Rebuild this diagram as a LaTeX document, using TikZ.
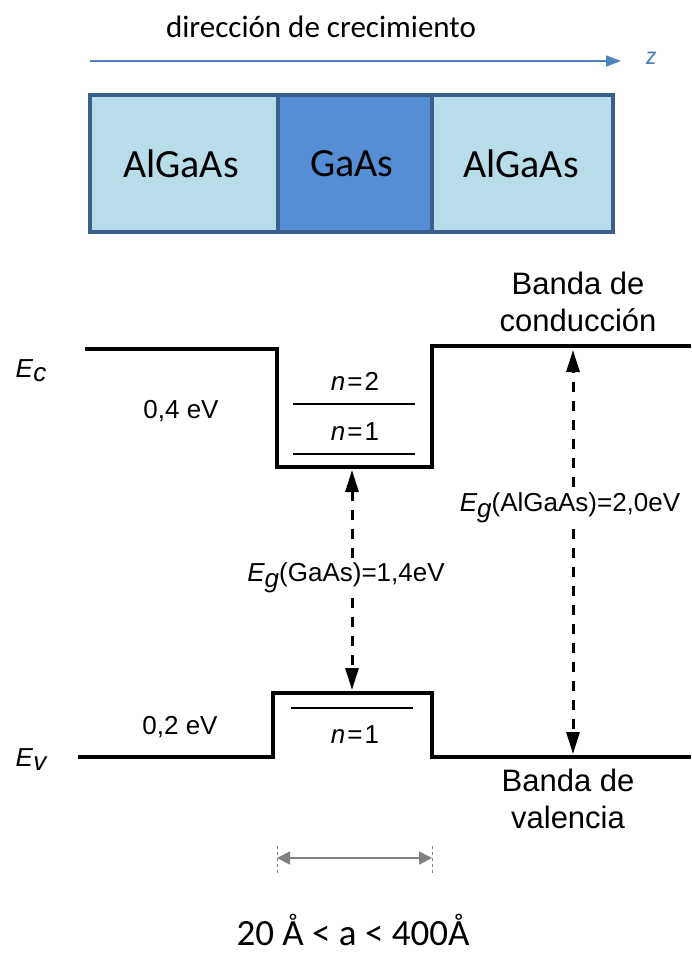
\documentclass[tikz,border=0pt]{standalone}
\usepackage{fontspec}
\setmainfont{Carlito}
\newfontfamily\bandfont{Liberation Sans}
\usetikzlibrary{arrows.meta}
\definecolor{zblue}{HTML}{4F81BD}
\definecolor{boxedge}{HTML}{3A5F8C}
\definecolor{lightfill}{HTML}{B7DDE8}
\definecolor{darkfill}{HTML}{558ED5}
\definecolor{dimgray}{HTML}{808080}
\tikzset{
  layer/.style={draw=boxedge, line width=3.5pt},
  layertext/.style={font=\fontsize{40}{46}\selectfont, inner sep=0pt},
  band/.style={line width=3.5pt, line join=miter},
  level/.style={line width=2pt},
  blabel/.style={font=\bandfont\fontsize{26}{30}\selectfont, inner sep=1pt},
  bigblabel/.style={font=\bandfont\fontsize{31}{37}\selectfont, align=center, inner sep=1pt},
  gaparrow/.style={line width=3pt, dash pattern=on 10pt off 9pt, -{Triangle[length=22pt,width=13pt]}},
}
\begin{document}
\begin{tikzpicture}[x=1pt,y=-1pt]
\useasboundingbox (0,0) rectangle (691,955);
% title and growth arrow
\node (title) at (321,27) {\fontsize{31}{36}\selectfont dirección de crecimiento};
\coordinate (zs) at (90,61);
\coordinate (ze) at (621,61);
\draw[zblue, line width=1.4pt, -{Triangle[length=15pt,width=11pt]}] (zs) -- (ze);
\node[text=zblue] (zlab) at (651,58) {\fontsize{26}{30}\selectfont\itshape z};
% layers
\draw[layer, fill=lightfill] (90,95) rectangle (278,232);
\draw[layer, fill=darkfill] (278,95) rectangle (432,232);
\draw[layer, fill=lightfill] (432,95) rectangle (613,232);
\node[layertext] (l1) at (181,164) {AlGaAs};
\node[layertext] (l2) at (352,164) {GaAs};
\node[layertext] (l3) at (521,164) {AlGaAs};
% conduction band
\draw[band] (85,349) -- (277,349) -- (277,467) -- (432,467) -- (432,346) -- (691,346);
\draw[level] (293,404) -- (415,404);
\draw[level] (293,454) -- (415,454);
\node[blabel] (n2) at (355,381) {\itshape n\kern2pt\upshape=\kern2pt2};
\node[blabel] (n1c) at (355,432) {\itshape n\kern2pt\upshape=\kern2pt1};
\node[blabel] (Ec) at (31,371) {\itshape E\kern0.5pt\raisebox{-4pt}{c}};
\node[blabel] (e04) at (181,411) {0,4 eV};
\node[bigblabel] (bc) at (578,302) {Banda de\\conducción};
% valence band
\draw[band] (78,757) -- (273,757) -- (273,693) -- (432,693) -- (432,757) -- (691,757);
\draw[level] (291,708) -- (413,708);
\node[blabel] (n1v) at (355,735) {\itshape n\kern2pt\upshape=\kern2pt1};
\node[blabel] (Ev) at (31,760) {\itshape E\kern0.5pt\raisebox{-4pt}{v}};
\node[blabel] (e02) at (180,727) {0,2 eV};
\node[bigblabel] (bv) at (568,799) {Banda de\\valencia};
% gap arrows
\node[blabel, inner sep=5pt] (eg1) at (346,578) {\itshape E\raisebox{-6pt}{g}\upshape(GaAs)=1,4eV};
\coordinate (g1t) at (352,470);
\coordinate (g1b) at (352,690);
\draw[gaparrow] (eg1.north -| g1t) -- (g1t);
\draw[gaparrow] (eg1.south -| g1t) -- (g1b);
\node[blabel, inner sep=6pt] (eg2) at (570,508) {\itshape E\raisebox{-6pt}{g}\upshape(AlGaAs)=2,0eV};
\coordinate (g2t) at (573,350);
\coordinate (g2b) at (573,754);
\draw[gaparrow] (eg2.north -| g2t) -- (g2t);
\draw[gaparrow] (eg2.south -| g2t) -- (g2b);
% width arrow
\coordinate (wl) at (277,858);
\coordinate (wr) at (432,858);
\draw[dimgray, dashed, line width=0.7pt] (277,846) -- (277,874);
\draw[dimgray, dashed, line width=0.7pt] (432,846) -- (432,874);
\draw[dimgray, line width=1.8pt, {Triangle[length=13pt,width=13pt]}-{Triangle[length=13pt,width=13pt]}] (wl) -- (wr);
\node[anchor=base, inner sep=0pt] (range) at (353,945) {\fontsize{37}{42}\selectfont 20 Å < a < 400Å};
\end{tikzpicture}
\end{document}
